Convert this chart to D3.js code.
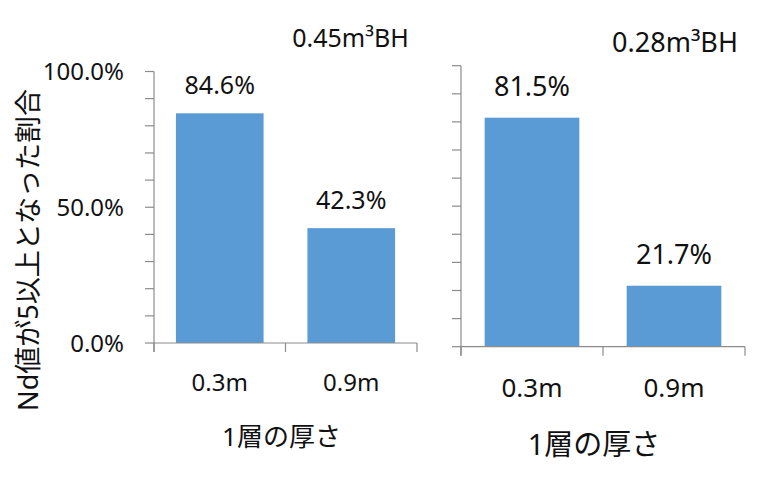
<!DOCTYPE html>
<html>
<head>
<meta charset="utf-8">
<script src="https://cdn.jsdelivr.net/npm/d3@7"></script>
<style>
  html, body { margin: 0; padding: 0; background: #fff; }
  svg { display: block; }
  text { font-family: "Noto Sans", "Noto Sans CJK JP", sans-serif; fill: #111; }
</style>
</head>
<body>
<svg id="chart" width="775" height="483"></svg>
<script>
// ---- data ----
const categories = ["0.3m", "0.9m"];
const panelTitles = ["0.45m\u00B3BH", "0.28m\u00B3BH"];
const values045 = [84.6, 42.3];
const values028 = [81.5, 21.7];
const yMajorTicks = [0, 50, 100];
const yMinorTicks = [0, 10, 20, 30, 40, 50, 60, 70, 80, 90, 100];
const xTitle = "1層の厚さ";
const yTitle = "Nd値が5以上となった割合";

const svg = d3.select("#chart");
const axisColor = "#8c8c8c";
const barColor = "#5B9BD5";

const panels = [
  { title: panelTitles[0], values: values045, x0: 154, x1: 417, yBot: 343, yTop: 71.5, showYLabels: true,
    titleX: 350.5, titleY: 47, titleSize: 25,
    barLabelSize: 25, barLabelGap: 19.5,
    catSize: 24, catY: 390.5,
    xTitleX: 281.5, xTitleY: 446, xTitleSize: 26 },
  { title: panelTitles[1], values: values028, x0: 461, x1: 745, yBot: 346.7, yTop: 65.7, showYLabels: false,
    titleX: 675, titleY: 52, titleSize: 27,
    barLabelSize: 27, barLabelGap: 21.5,
    catSize: 26, catY: 397,
    xTitleX: 594, xTitleY: 455, xTitleSize: 29 }
];

panels.forEach(p => {
  const g = svg.append("g");
  const x = d3.scaleBand().domain(categories).range([p.x0, p.x1])
    .paddingInner(1/3).paddingOuter(1/6);
  const y = d3.scaleLinear().domain([0, 100]).range([p.yBot, p.yTop]);
  const step = x.step();

  // bars
  g.selectAll("rect.bar").data(p.values).enter().append("rect")
    .attr("class", "bar")
    .attr("x", (d, i) => x(categories[i]))
    .attr("width", x.bandwidth())
    .attr("y", d => y(d))
    .attr("height", d => y(0) - y(d))
    .attr("fill", barColor);

  // bar labels
  g.selectAll("text.val").data(p.values).enter().append("text")
    .attr("class", "val")
    .attr("x", (d, i) => x(categories[i]) + x.bandwidth() / 2)
    .attr("y", d => y(d) - p.barLabelGap)
    .attr("text-anchor", "middle")
    .style("font-size", p.barLabelSize + "px")
    .text(d => d.toFixed(1) + "%");

  // y axis line
  g.append("line")
    .attr("x1", p.x0).attr("x2", p.x0)
    .attr("y1", y(100)).attr("y2", y(0) + 9)
    .attr("stroke", axisColor).attr("stroke-width", 1.2);
  // y ticks
  g.selectAll("line.yt").data(yMinorTicks).enter().append("line")
    .attr("class", "yt")
    .attr("x1", p.x0 - 9).attr("x2", p.x0)
    .attr("y1", d => y(d)).attr("y2", d => y(d))
    .attr("stroke", axisColor).attr("stroke-width", 1.2);
  // x axis line
  g.append("line")
    .attr("x1", p.x0).attr("x2", p.x1)
    .attr("y1", y(0)).attr("y2", y(0))
    .attr("stroke", axisColor).attr("stroke-width", 1.2);
  // category dividers
  const dividers = d3.range(categories.length + 1).map(i => p.x0 + i * step);
  g.selectAll("line.xt").data(dividers).enter().append("line")
    .attr("class", "xt")
    .attr("x1", d => d).attr("x2", d => d)
    .attr("y1", y(0)).attr("y2", y(0) + 9)
    .attr("stroke", axisColor).attr("stroke-width", 1.2);

  // y labels
  if (p.showYLabels) {
    g.selectAll("text.yl").data(yMajorTicks).enter().append("text")
      .attr("class", "yl")
      .attr("x", 124)
      .attr("y", d => y(d))
      .attr("dy", "0.36em")
      .attr("text-anchor", "end")
      .style("font-size", "24px")
      .text(d => d.toFixed(1) + "%");
  }

  // category labels
  g.selectAll("text.cat").data(categories).enter().append("text")
    .attr("class", "cat")
    .attr("x", d => x(d) + x.bandwidth() / 2)
    .attr("y", p.catY)
    .attr("text-anchor", "middle")
    .style("font-size", p.catSize + "px")
    .text(d => d);

  // x title
  g.append("text")
    .attr("x", p.xTitleX).attr("y", p.xTitleY)
    .attr("text-anchor", "middle")
    .style("font-size", p.xTitleSize + "px")
    .text(xTitle);

  // panel title
  g.append("text")
    .attr("x", p.titleX).attr("y", p.titleY)
    .attr("text-anchor", "middle")
    .style("font-size", p.titleSize + "px")
    .text(p.title);
});

// y title
svg.append("text")
  .attr("transform", "translate(27,250) rotate(-90)")
  .attr("text-anchor", "middle")
  .attr("dominant-baseline", "central")
  .style("font-size", "27px")
  .text(yTitle);
</script>
</body>
</html>
